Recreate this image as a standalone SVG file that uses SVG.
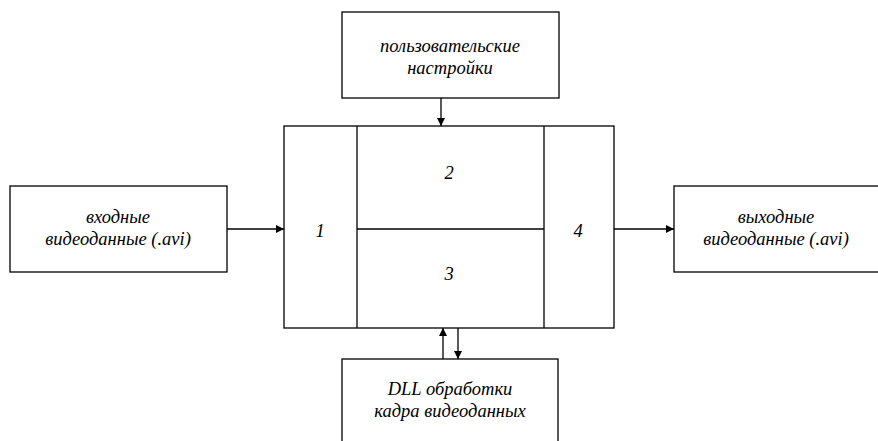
<svg xmlns="http://www.w3.org/2000/svg" width="878" height="441" viewBox="0 0 878 441">
<style>
.box{fill:#fff;stroke:#000;stroke-width:1.3}
.ln{fill:none;stroke:#000;stroke-width:1.3}
.t{font-family:"Liberation Serif",serif;font-style:italic;font-size:18.5px;fill:#000;text-anchor:middle}
</style>
<defs>
<marker id="ah" viewBox="0 0 10 10" refX="10" refY="5" markerWidth="8" markerHeight="8" markerUnits="userSpaceOnUse" orient="auto">
<path d="M0,0 L10,5 L0,10 z" fill="#000"/>
</marker>
</defs>
<rect width="878" height="441" fill="#fff"/>
<g id="settings">
<rect class="box" x="342" y="12" width="217" height="86"/>
<text class="t" x="450" y="52">пользовательские</text>
<text class="t" x="450" y="74">настройки</text>
</g>
<g id="input">
<rect class="box" x="10" y="186" width="217" height="86"/>
<text class="t" x="118" y="223">входные</text>
<text class="t" x="118" y="245">видеоданные (.avi)</text>
</g>
<g id="output">
<rect class="box" x="674" y="186" width="230" height="86"/>
<text class="t" x="776" y="223">выходные</text>
<text class="t" x="776" y="245">видеоданные (.avi)</text>
</g>
<g id="dll">
<rect class="box" x="342" y="359" width="216" height="100"/>
<text class="t" x="450" y="395">DLL обработки</text>
<text class="t" x="450" y="417">кадра видеоданных</text>
</g>
<g id="processor">
<rect class="box" x="284" y="126" width="330" height="202"/>
<line class="ln" x1="357" y1="126" x2="357" y2="328"/>
<line class="ln" x1="544" y1="126" x2="544" y2="328"/>
<line class="ln" x1="357" y1="229" x2="544" y2="229"/>
<text class="t" x="320" y="237">1</text>
<text class="t" x="449" y="179">2</text>
<text class="t" x="449" y="280">3</text>
<text class="t" x="578" y="237">4</text>
</g>
<g id="connectors">
<line class="ln" x1="441" y1="98" x2="441" y2="126" marker-end="url(#ah)"/>
<line class="ln" x1="227" y1="229" x2="284" y2="229" marker-end="url(#ah)"/>
<line class="ln" x1="614" y1="229" x2="674" y2="229" marker-end="url(#ah)"/>
<line class="ln" x1="443" y1="359" x2="443" y2="328" marker-end="url(#ah)"/>
<line class="ln" x1="458" y1="328" x2="458" y2="359" marker-end="url(#ah)"/>
</g>
</svg>
